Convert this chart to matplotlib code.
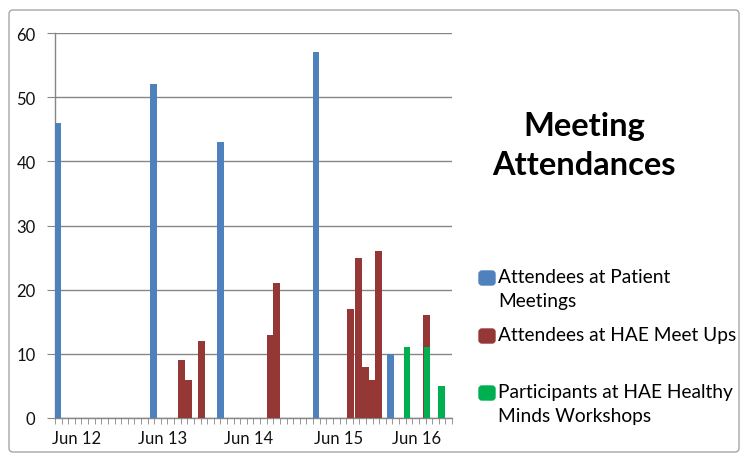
import matplotlib
matplotlib.use("Agg")
import matplotlib.pyplot as plt
import numpy as np
from matplotlib.patches import FancyBboxPatch

plt.rcParams['font.family'] = ['Lato', 'DejaVu Sans']

# months counted from the left edge of the date axis
months_patient = [0.4, 14.86, 25.04, 39.44, 50.7]
patient = [46, 52, 43, 57, 10]

months_meetup = [19.07, 20.15, 22.17, 32.49, 33.45, 44.73, 45.87, 46.92, 47.98, 48.96, 56.2]
meetups = [9, 6, 12, 13, 21, 17, 25, 8, 6, 26, 16]

months_workshop = [53.2, 56.2, 58.4]
workshops = [11, 11, 5]

tick_months = [3.2, 16.3, 29.3, 42.8, 54.6]
tick_labels = ['Jun 12', 'Jun 13', 'Jun 14', 'Jun 15', 'Jun 16']

series_names = ['Attendees at Patient\nMeetings',
                'Attendees at HAE Meet Ups',
                'Participants at HAE Healthy\nMinds Workshops']
colors = ['#4F81BD', '#953735', '#00B050']
grey = '#868686'

W, H = 742, 456
fig = plt.figure(figsize=(W / 100, H / 100), dpi=100)
ax = fig.add_axes([55 / W, 1 - 419 / H, (452 - 55) / W, (419 - 34) / H])

ax.bar(months_patient, patient, width=1.0, color=colors[0], zorder=3)
ax.bar(months_meetup, meetups, width=1.05, color=colors[1], zorder=3)
ax.bar(months_workshop, workshops, width=1.0, color=colors[2], zorder=4)

ax.set_xlim(0, 60)
ax.set_ylim(0, 60)
ax.set_yticks(range(0, 61, 10))
ax.yaxis.grid(True, color=grey, lw=1)
ax.set_axisbelow(True)
for s in ['top', 'right']:
    ax.spines[s].set_visible(False)
for s in ['left', 'bottom']:
    ax.spines[s].set_color(grey)
    ax.spines[s].set_linewidth(1)

ax.tick_params(axis='y', length=6, color=grey, labelsize=12, pad=8, labelcolor='#111111')
ax.set_xticks(tick_months, tick_labels)
ax.set_xticks(np.arange(0, 61), minor=True)
ax.tick_params(axis='x', which='major', length=0, labelsize=12, pad=9, labelcolor='#111111')
ax.tick_params(axis='x', which='minor', length=4, color=grey)

# title
fig.text(584 / W, 1 - 146 / H, 'Meeting\nAttendances', ha='center', va='center',
         fontsize=23.5, fontweight='bold', linespacing=1.4)

# legend drawn beside the plot
legend_rows = [279, 337, 394]
for name, col, yrow in zip(series_names, colors, legend_rows):
    fig.add_artist(FancyBboxPatch((4.79, (H - yrow - 7) / 100), 0.16, 0.14,
                                  boxstyle='round,pad=0,rounding_size=0.03',
                                  transform=fig.dpi_scale_trans, color=col))
    fig.text(498 / W, 1 - (yrow - 10) / H, name, ha='left', va='top',
             fontsize=13.8, linespacing=1.5)

# chart border
fig.add_artist(FancyBboxPatch((0.09, 0.03), 7.30, 4.42,
                              boxstyle='round,pad=0,rounding_size=0.04',
                              transform=fig.dpi_scale_trans, fill=False,
                              edgecolor='#A6A6A6', lw=1))

fig.savefig('out.png', dpi=100)
